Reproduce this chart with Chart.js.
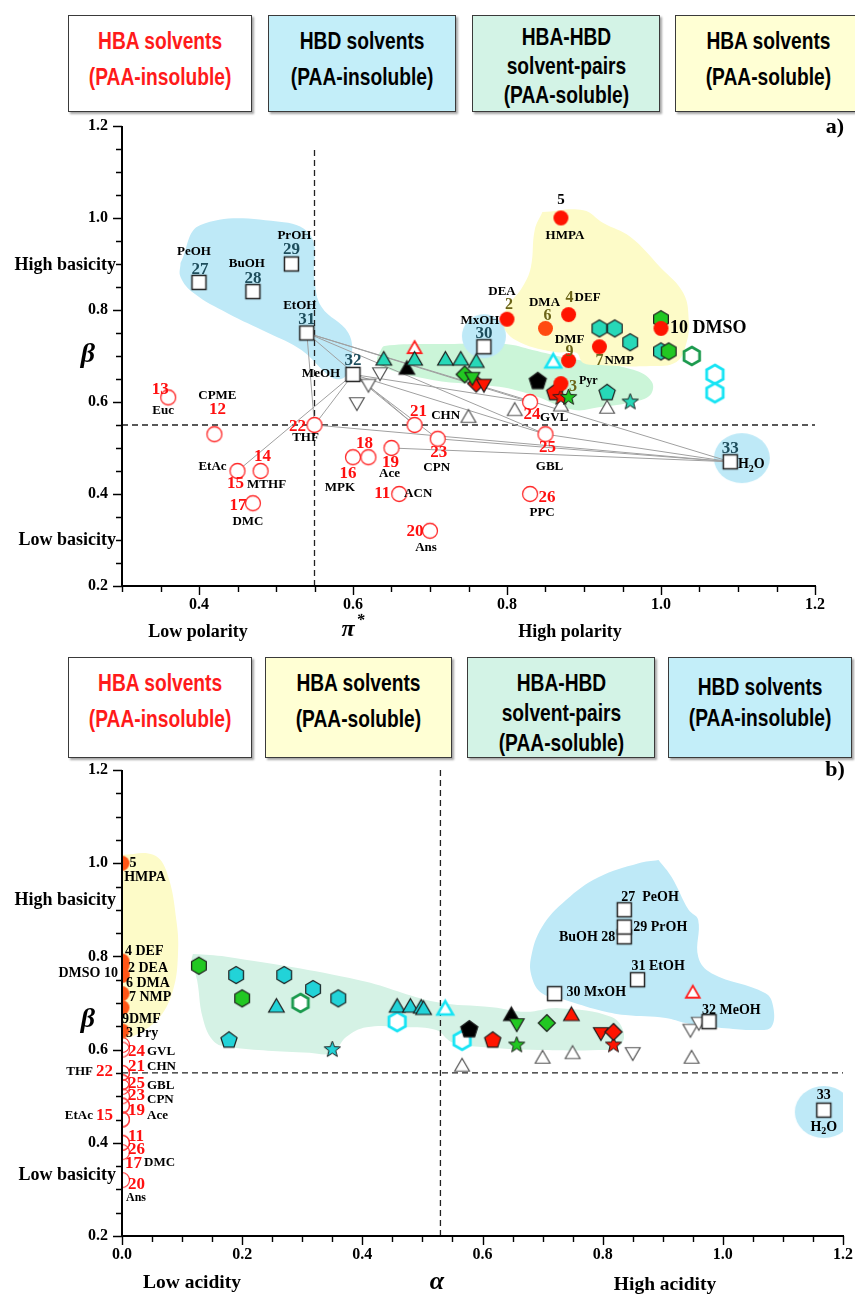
<!DOCTYPE html>
<html>
<head>
<meta charset="utf-8">
<script src="https://cdn.jsdelivr.net/npm/chart.js@4.4.0/dist/chart.umd.min.js"></script>
<style>
  body { margin: 0; background: #fff; width: 855px; height: 1296px; position: relative; overflow: hidden; }
  .box {
    position: absolute; box-sizing: border-box; border: 1.5px solid #3a3a3a;
    box-shadow: 2px 2px 2px rgba(0,0,0,0.35);
    display: flex; align-items: center; justify-content: center; text-align: center;
    font-family: "Liberation Sans", Arial, sans-serif; font-weight: bold; font-size: 24px;
  }
  .box div { transform: scaleX(0.8); white-space: nowrap; }
  canvas { position: absolute; left: 0; }
</style>
</head>
<body>
<div class="box" style="left:68px;top:15px;width:184px;height:97px;color:#ff1a1a;line-height:36px;padding-bottom:10px"><div>HBA solvents<br>(PAA-insoluble)</div></div>
<div class="box" style="left:268px;top:15px;width:188px;height:97px;background:#c3eef9;line-height:36px;padding-bottom:10px"><div>HBD solvents<br>(PAA-insoluble)</div></div>
<div class="box" style="left:472px;top:15px;width:188px;height:97px;background:#d3f3e6;line-height:29px;padding-top:4px"><div>HBA-HBD<br>solvent-pairs<br>(PAA-soluble)</div></div>
<div class="box" style="left:675px;top:15px;width:186px;height:97px;background:#ffffd4;line-height:36px;padding-bottom:10px"><div>HBA solvents<br>(PAA-soluble)</div></div>

<div class="box" style="left:68px;top:657px;width:184px;height:101px;color:#ff1a1a;line-height:36px;padding-bottom:14px"><div>HBA solvents<br>(PAA-insoluble)</div></div>
<div class="box" style="left:265px;top:657px;width:187px;height:101px;background:#ffffd4;line-height:36px;padding-bottom:14px"><div>HBA solvents<br>(PAA-soluble)</div></div>
<div class="box" style="left:467px;top:657px;width:188px;height:101px;background:#d3f3e6;line-height:30px;padding-top:10px"><div>HBA-HBD<br>solvent-pairs<br>(PAA-soluble)</div></div>
<div class="box" style="left:668px;top:657px;width:184px;height:101px;background:#c3eef9;line-height:31px;padding-bottom:12px"><div>HBD solvents<br>(PAA-insoluble)</div></div>

<canvas id="chartA" width="855" height="540" style="top:115px"></canvas>
<canvas id="chartB" width="855" height="536" style="top:760px"></canvas>

<script>
// ---- solvents: Kamlet-Taft values ----
const hbaSolNum = [5, 2, 6, 4, 9, 7, 10, 3];
const hbaSolName = ['HMPA', 'DEA', 'DMA', 'DEF', 'DMF', 'NMP', 'DMSO', 'Pyr'];
const hbaSolPi = [0.87, 0.80, 0.85, 0.88, 0.88, 0.92, 1.00, 0.87];
const hbaSolBeta = [1.00, 0.78, 0.76, 0.79, 0.69, 0.72, 0.76, 0.64];

const hbaInsNum = [13, 12, 22, 21, 15, 14, 17, 16, 18, 19, 23, 11, 20, 24, 25, 26];
const hbaInsName = ['Euc', 'CPME', 'THF', 'CHN', 'EtAc', 'MTHF', 'DMC', 'MPK', '', 'Ace', 'CPN', 'ACN', 'Ans', 'GVL', 'GBL', 'PPC'];
const hbaInsPi = [0.36, 0.42, 0.55, 0.68, 0.45, 0.48, 0.47, 0.60, 0.62, 0.65, 0.71, 0.66, 0.70, 0.83, 0.85, 0.83];
const hbaInsBeta = [0.61, 0.53, 0.55, 0.55, 0.45, 0.45, 0.38, 0.48, 0.48, 0.50, 0.52, 0.40, 0.32, 0.60, 0.53, 0.40];

const hbdNum = [27, 28, 29, 31, 32, 30, 33];
const hbdName = ['PeOH', 'BuOH', 'PrOH', 'EtOH', 'MeOH', 'MxOH', 'H2O'];
const hbdPi = [0.40, 0.47, 0.52, 0.54, 0.60, 0.77, 1.09];
const hbdBetaA = [0.86, 0.84, 0.90, 0.75, 0.66, 0.72, 0.47];
const hbdAlpha = [0.836, 0.836, 0.836, 0.858, 0.977, 0.72, 1.168];
const hbdBetaB = [0.90, 0.842, 0.863, 0.75, 0.66, 0.72, 0.47];

// HBD + HBA pairs drawn with grey tie lines in panel a)
const linkPairs = [[31, 22], [31, 21], [31, 24], [31, 25], [31, 33], [32, 15], [32, 22], [32, 21], [32, 23], [32, 24], [32, 25], [33, 22], [33, 23], [33, 19], [33, 25]];

// ---- solvent-pair points, panel a) (pi*, beta) ----
const pTealTriA = [[0.64, 0.69], [0.68, 0.69], [0.72, 0.69], [0.74, 0.69], [0.76, 0.685]];
const pOpenRedTriA = [[0.68, 0.715]];
const pBlackTriA = [[0.67, 0.67]];
const pGreenDiaA = [[0.745, 0.66]];
const pGreenDownA = [[0.755, 0.655]];
const pRedDiaA = [[0.76, 0.64]];
const pRedDownA = [[0.77, 0.64]];
const pOpenCyanTriA = [[0.86, 0.685]];
const pBlackPentA = [[0.84, 0.645]];
const pRedPentA = [[0.862, 0.62]];
const pRedStarA = [[0.87, 0.61]];
const pGreenStarA = [[0.88, 0.61]];
const pTealPentA = [[0.93, 0.62]];
const pTealStarA = [[0.96, 0.60]];
const pGreyTriA = [[0.81, 0.58], [0.87, 0.59], [0.93, 0.585], [0.75, 0.565]];
const pGreyDownA = [[0.635, 0.665], [0.62, 0.64], [0.605, 0.60]];
const pTealHexA = [[0.92, 0.76], [0.94, 0.76], [0.96, 0.73], [1.00, 0.71]];
const pGreenHexA = [[1.01, 0.71], [1.00, 0.78]];
const pOpenGreenHexA = [[1.04, 0.70]];
const pOpenCyanHexA = [[1.07, 0.66], [1.07, 0.62]];

// ---- solvent-pair points, panel b) (alpha, beta) ----
const pTealHexB = [[0.19, 0.76], [0.27, 0.76], [0.318, 0.73], [0.36, 0.71]];
const pGreenHexB = [[0.128, 0.78], [0.20, 0.71]];
const pOpenGreenHexB = [[0.297, 0.70]];
const pTealTriB = [[0.257, 0.69], [0.458, 0.69], [0.48, 0.69], [0.498, 0.688], [0.502, 0.685]];
const pTealPentB = [[0.178, 0.62]];
const pTealStarB = [[0.35, 0.60]];
const pOpenCyanTriB = [[0.538, 0.685]];
const pOpenCyanHexB = [[0.458, 0.66], [0.566, 0.62]];
const pBlackPentB = [[0.578, 0.643]];
const pRedPentB = [[0.617, 0.62]];
const pGreyTriB = [[0.566, 0.563], [0.70, 0.58], [0.75, 0.59], [0.948, 0.58]];
const pBlackTriB = [[0.648, 0.672]];
const pGreenDownB = [[0.657, 0.657]];
const pGreenDiaB = [[0.707, 0.657]];
const pRedTriB = [[0.748, 0.672]];
const pRedDownB = [[0.797, 0.638]];
const pRedDiaB = [[0.818, 0.638]];
const pGreenStarB = [[0.657, 0.61]];
const pRedStarB = [[0.818, 0.61]];
const pOpenRedTriB = [[0.95, 0.72]];
const pGreyDownB = [[0.946, 0.645], [0.96, 0.66], [0.85, 0.595]];

// ---- shaded groups (outlines in data units) ----
const blueBlobA = [[0.376, 0.902], [0.402, 0.985], [0.510, 0.991], [0.546, 0.959], [0.550, 0.865], [0.559, 0.807], [0.594, 0.750], [0.598, 0.691], [0.589, 0.654], [0.572, 0.654], [0.533, 0.713], [0.490, 0.750], [0.437, 0.793], [0.393, 0.837], [0.376, 0.872]];
const yellowBlobA = [[0.846, 1.013], [0.899, 1.017], [0.925, 0.989], [0.960, 0.959], [0.999, 0.893], [1.029, 0.837], [1.036, 0.778], [1.033, 0.728], [1.020, 0.687], [0.986, 0.678], [0.925, 0.680], [0.899, 0.685], [0.890, 0.707], [0.860, 0.709], [0.811, 0.735], [0.794, 0.772], [0.801, 0.807], [0.820, 0.850], [0.831, 0.893], [0.836, 0.974]];
const greenBlobA = [[0.635, 0.709], [0.641, 0.722], [0.725, 0.726], [0.798, 0.726], [0.833, 0.713], [0.877, 0.696], [0.964, 0.670], [0.988, 0.644], [0.986, 0.615], [0.964, 0.600], [0.921, 0.589], [0.886, 0.583], [0.833, 0.615], [0.790, 0.633], [0.703, 0.648], [0.637, 0.676], [0.631, 0.691]];
const highlightA = [[0.77, 0.743], [1.105, 0.478]];

const yellowBlobB = [[0, 1.018], [0.052, 1.018], [0.075, 0.979], [0.091, 0.872], [0.093, 0.799], [0.085, 0.728], [0.063, 0.670], [0.030, 0.636], [0.002, 0.621], [0, 0.62]];
const greenBlobB = [[0.118, 0.805], [0.174, 0.799], [0.395, 0.749], [0.523, 0.702], [0.616, 0.691], [0.672, 0.681], [0.727, 0.689], [0.815, 0.670], [0.835, 0.636], [0.827, 0.606], [0.793, 0.599], [0.694, 0.599], [0.594, 0.606], [0.549, 0.616], [0.523, 0.642], [0.473, 0.648], [0.407, 0.648], [0.373, 0.627], [0.350, 0.593], [0.312, 0.593], [0.174, 0.606], [0.151, 0.620], [0.134, 0.670], [0.125, 0.749], [0.116, 0.792]];
const blueBlobB = [[0.893, 1.007], [0.915, 0.970], [0.943, 0.900], [0.959, 0.878], [0.959, 0.799], [0.981, 0.764], [1.071, 0.721], [1.084, 0.691], [1.081, 0.649], [1.059, 0.642], [1.004, 0.646], [0.959, 0.653], [0.938, 0.657], [0.905, 0.668], [0.838, 0.674], [0.793, 0.685], [0.739, 0.706], [0.699, 0.721], [0.682, 0.756], [0.681, 0.799], [0.699, 0.863], [0.739, 0.921], [0.793, 0.970], [0.860, 1.000]];
const highlightB = [[1.168, 0.466]];

// split lines
const splitPiA = 0.55, splitBetaA = 0.55, splitAlphaB = 0.53, splitBetaB = 0.55;

// ---- look & feel ----
const SERIF = '"Liberation Serif", "Times New Roman", serif';
const BLUE = '#bee9f7', YELLOW = '#fdfbc8', GREEN_A = '#cbf5d8', GREEN_B = '#d5f2e5';
const RED = '#ff1400', ORANGE = '#ff4a10', ORANGE_B = '#ff5516';
const TEAL_A = '#27d8b8', TEAL_B = '#22d3d8', GREEN = '#22c822', EDGE = '#1b1b1b';
const CYAN = '#16e4f4', OPEN_GREEN = '#1c9a4e', GREY = '#555';

function polyVerts(shape, r) {
  const n = { tri: 3, tridown: 3, diamond: 4, pent: 5, hex: 6, star: 10 }[shape];
  const start = shape === 'tridown' ? Math.PI / 2 : -Math.PI / 2;
  const out = [];
  for (let i = 0; i < n; i++) {
    const a = start + i * 2 * Math.PI / n;
    const rr = shape === 'star' && i % 2 ? r * 0.42 : r;
    out.push([rr * Math.cos(a), rr * Math.sin(a)]);
  }
  return out;
}

// marker image for pointStyle
function mk(shape, r, fill, stroke, lw) {
  const rx = Array.isArray(r) ? r[0] : r, ry = Array.isArray(r) ? r[1] : r;
  const pad = lw + 2;
  const c = document.createElement('canvas');
  c.width = Math.ceil(2 * rx + 2 * pad);
  c.height = Math.ceil(2 * ry + 2 * pad);
  const g = c.getContext('2d');
  g.translate(c.width / 2, c.height / 2);
  g.beginPath();
  if (shape === 'circle') g.ellipse(0, 0, rx, ry, 0, 0, Math.PI * 2);
  else if (shape === 'square') g.rect(-rx, -rx, 2 * rx, 2 * rx);
  else {
    polyVerts(shape, rx).forEach(([x, y], i) => i ? g.lineTo(x, y) : g.moveTo(x, y));
    g.closePath();
  }
  if (fill) { g.fillStyle = fill; g.fill(); }
  if (stroke) { g.lineWidth = lw; g.strokeStyle = stroke; g.stroke(); }
  return c;
}

const M = {
  redDot: mk('circle', 7.5, RED, null, 0),
  orangeDot: mk('circle', 7.5, ORANGE, null, 0),
  orangeDotB: mk('circle', 7.5, ORANGE_B, null, 0),
  openCircleA: mk('circle', 7.5, '#fff', '#ff2a2a', 1.3),
  openCircleB: mk('circle', 7.5, null, '#ff3a3a', 1.2),
  square: mk('square', 7, '#fff', '#222', 1.5),
  tealTriA: mk('tri', 9, TEAL_A, EDGE, 1.2),
  tealTriB: mk('tri', 9, TEAL_B, EDGE, 1.2),
  blackTri: mk('tri', 9, '#000', EDGE, 1.2),
  redTri: mk('tri', 9, RED, EDGE, 1.2),
  openRedTri: mk('tri', 8, '#fff', '#ff2020', 1.8),
  openCyanTri: mk('tri', 9, '#fff', CYAN, 2.5),
  greyTri: mk('tri', 8.5, '#fff', GREY, 1.2),
  greyDown: mk('tridown', 8.5, '#fff', GREY, 1.2),
  greenDown: mk('tridown', 8.5, GREEN, EDGE, 1.2),
  redDown: mk('tridown', 8.5, RED, EDGE, 1.2),
  greenDia: mk('diamond', 8.5, GREEN, EDGE, 1.2),
  redDia: mk('diamond', 8.5, RED, EDGE, 1.2),
  blackPent: mk('pent', 9, '#000', EDGE, 1.2),
  redPent: mk('pent', 8.5, RED, EDGE, 1.2),
  tealPentA: mk('pent', 8.5, TEAL_A, EDGE, 1.2),
  tealPentB: mk('pent', 8.5, TEAL_B, EDGE, 1.2),
  redStar: mk('star', 8.5, RED, EDGE, 1),
  greenStar: mk('star', 8.5, GREEN, EDGE, 1),
  tealStarA: mk('star', 8.5, TEAL_A, EDGE, 1),
  tealStarB: mk('star', 8.5, TEAL_B, EDGE, 1),
  tealHexA: mk('hex', 8.5, TEAL_A, EDGE, 1.2),
  tealHexB: mk('hex', 8.5, TEAL_B, EDGE, 1.2),
  greenHex: mk('hex', 8.5, GREEN, EDGE, 1.2),
  openGreenHex: mk('hex', 9, '#fff', OPEN_GREEN, 2.8),
  openCyanHex: mk('hex', 9.5, '#fff', CYAN, 2.8),
  hlMx: mk('circle', 22, BLUE, null, 0),
  hlWaterA: mk('circle', [28, 25], BLUE, null, 0),
  hlWaterB: mk('circle', [29, 26], BLUE, null, 0)
};

// ---- solvent lookup ----
const SOLV = {};
hbaSolNum.forEach((n, i) => { SOLV[n] = { n, group: 'sol', name: hbaSolName[i], pi: hbaSolPi[i], betaA: hbaSolBeta[i], alpha: 0, betaB: hbaSolBeta[i] }; });
hbaInsNum.forEach((n, i) => { SOLV[n] = { n, group: 'ins', name: hbaInsName[i], pi: hbaInsPi[i], betaA: hbaInsBeta[i], alpha: 0, betaB: hbaInsBeta[i] }; });
hbdNum.forEach((n, i) => { SOLV[n] = { n, group: 'hbd', name: hbdName[i], pi: hbdPi[i], betaA: hbdBetaA[i], alpha: hbdAlpha[i], betaB: hbdBetaB[i] }; });
const posA = s => [s.pi, s.betaA];
const posB = s => [s.alpha, s.betaB];

const xy = (xs, ys) => xs.map((x, i) => ({ x, y: ys[i] }));
const pts = arr => arr.map(([x, y]) => ({ x, y }));

function marks(data, style, order, extra) {
  return Object.assign({ type: 'scatter', data, pointStyle: style, pointRadius: 8, pointHoverRadius: 8, order }, extra || {});
}
function blob(outline, color) {
  return { type: 'line', data: pts(outline.concat([outline[0]])), fill: 'shape', backgroundColor: color,
    borderWidth: 0, borderColor: 'rgba(0,0,0,0)', pointRadius: 0, tension: 0.4, order: 20 };
}
function segment(p, q, color, width, dash, order) {
  return { type: 'line', data: pts([p, q]), borderColor: color, borderWidth: width, borderDash: dash,
    pointRadius: 0, fill: false, tension: 0, order };
}

function drawText(ctx, text, x, y, align, font, color) {
  ctx.font = font; ctx.fillStyle = color; ctx.textBaseline = 'middle';
  const size = parseFloat(font.match(/([\d.]+)px/)[1]);
  if (text === 'H2O' || text === 'π*') {
    const a = text === 'H2O' ? 'H' : 'π', b = text === 'H2O' ? '2' : '*', c = text === 'H2O' ? 'O' : '';
    const small = font.replace(/[\d.]+px/, Math.round(size * 0.68) + 'px');
    const wa = ctx.measureText(a).width, wc = ctx.measureText(c).width;
    ctx.font = small; const wb = ctx.measureText(b).width; ctx.font = font;
    const total = wa + wb + wc;
    const sx = align === 'center' ? x - total / 2 : align === 'right' ? x - total : x;
    ctx.textAlign = 'left';
    ctx.fillText(a, sx, y);
    ctx.font = small; ctx.fillText(b, sx + wa + (c ? 0 : 2), y + (c ? size * 0.3 : -size * 0.4));
    ctx.font = font; if (c) ctx.fillText(c, sx + wa + wb, y);
    return;
  }
  ctx.textAlign = align; ctx.fillText(text, x, y);
}

function axesPlugin(texts) {
  return {
    id: 'axes',
    afterDatasetsDraw(chart) {
      const { ctx, chartArea: a, scales: { x, y } } = chart;
      ctx.save();
      ctx.strokeStyle = '#000';
      ctx.lineWidth = 2;
      ctx.beginPath();
      ctx.moveTo(a.left, a.top); ctx.lineTo(a.left, a.bottom); ctx.lineTo(a.right + 1, a.bottom);
      ctx.stroke();
      ctx.lineWidth = 1.4;
      ctx.beginPath();
      x.ticks.forEach(t => {
        const p = Math.round(x.getPixelForValue(t.value)) + 0.5, L = t.label ? 9 : 6;
        ctx.moveTo(p, a.bottom); ctx.lineTo(p, a.bottom + L);
      });
      y.ticks.forEach(t => {
        const p = Math.round(y.getPixelForValue(t.value)) + 0.5, L = t.label ? 9 : 6;
        ctx.moveTo(a.left, p); ctx.lineTo(a.left - L, p);
      });
      ctx.stroke();
      texts.forEach(([txt, tx, ty, align, font]) => drawText(ctx, txt, tx, ty, align, font, '#000'));
      ctx.restore();
    }
  };
}

function labelPlugin(specs, pos, colorOf) {
  return {
    id: 'solventLabels',
    afterDatasetsDraw(chart) {
      const { ctx, scales: { x, y } } = chart;
      ctx.save();
      specs.forEach(([n, part, dx, dy, align, size, override]) => {
        const s = SOLV[n], p = pos(s);
        const px = x.getPixelForValue(p[0]) + dx, py = y.getPixelForValue(p[1]) + dy;
        const text = override || (part === 'n' ? String(n) : part === 'm' ? s.name : part === 'nm' ? n + ' ' + s.name : s.name + ' ' + n);
        const fsize = size || (part === 'n' ? 17 : 13);
        drawText(ctx, text, px, py, align || 'center', `bold ${fsize}px ${SERIF}`, colorOf(s, part));
      });
      ctx.restore();
    }
  };
}

const isMajor = v => Math.abs(v / 0.2 - Math.round(v / 0.2)) < 1e-6;
function axis(min, max, size, isX) {
  return {
    type: 'linear', min, max,
    grid: { display: false, drawTicks: false }, border: { display: false },
    afterFit: s => {
      if (isX) { s.height = size; s.paddingLeft = 0; s.paddingRight = 0; }
      else { s.width = size; s.paddingTop = 0; s.paddingBottom = 0; }
    },
    ticks: {
      stepSize: 0.05, maxTicksLimit: 30, autoSkip: false, maxRotation: 0, padding: isX ? 9 : 14, color: '#000',
      font: { family: SERIF, weight: 'bold', size: 16 },
      callback: v => isMajor(v) ? v.toFixed(1) : ''
    }
  };
}

const AXF = `bold 18px ${SERIF}`, GREEK = `bold italic 28px ${SERIF}`;

// ---------------- panel a) ----------------
const labelsA = [
  [5, 'n', 0, -18, 'center', 15], [5, 'm', 4, 18],
  [2, 'm', -5, -28], [2, 'n', 2, -14, 'center', 16],
  [6, 'm', -1, -26], [6, 'n', 2, -13, 'center', 16],
  [4, 'n', 1, -17, 'center', 16], [4, 'm', 6, -17, 'left'],
  [9, 'm', 1, -21], [9, 'n', 1, -9, 'center', 16],
  [7, 'n', 0, 14, 'center', 16], [7, 'm', 5, 14, 'left'],
  [10, 'nm', 9, 0, 'left', 18],
  [3, 'n', 12, 3, 'center', 16], [3, 'm', 18, -3, 'left', 12],
  [13, 'n', -8, -8], [13, 'm', -5, 13],
  [12, 'm', 3, -39], [12, 'n', 3, -25],
  [22, 'n', -17, 2], [22, 'm', -9, 13],
  [21, 'n', 4, -13], [21, 'm', 31, -9],
  [15, 'm', -25, -4], [15, 'n', -2, 13],
  [14, 'n', 2, -14], [14, 'm', 6, 14],
  [17, 'n', -15, 2], [17, 'm', -5, 18],
  [16, 'n', -5, 16], [16, 'm', -13, 30],
  [18, 'n', -4, -14],
  [19, 'n', -1, 15], [19, 'm', -2, 26],
  [23, 'n', 1, 14], [23, 'm', -1, 29],
  [11, 'n', -17, 0], [11, 'm', 19, 0],
  [20, 'n', -15, 1], [20, 'm', -4, 17],
  [24, 'n', 2, 13], [24, 'm', 24, 16],
  [25, 'n', 2, 13], [25, 'm', 4, 32],
  [26, 'n', 17, 4], [26, 'm', 12, 19],
  [27, 'm', -5, -31], [27, 'n', 1, -13],
  [28, 'm', -6, -28], [28, 'n', 0, -13],
  [29, 'm', 3, -28], [29, 'n', 0, -14],
  [31, 'm', -7, -27], [31, 'n', 0, -13],
  [32, 'n', 0, -14], [32, 'm', -32, -1],
  [30, 'm', -4, -26], [30, 'n', 0, -13],
  [33, 'n', 0, -13], [33, 'm', 21, 3, 'center', 14]
];
const colorA = (s, part) => {
  if (part !== 'n') return '#000';
  if (s.group === 'ins') return '#ff1010';
  if (s.group === 'hbd') return '#1e4d5c';
  return (s.n === 5 || s.n === 10) ? '#000' : '#6b6418';
};
const textsA = [
  ['High basicity', 116, 150, 'right', AXF],
  ['β', 88, 240, 'center', GREEK],
  ['Low basicity', 116, 425, 'right', AXF],
  ['Low polarity', 198, 517, 'center', AXF],
  ['π*', 352, 515, 'center', `bold italic 24px ${SERIF}`],
  ['High polarity', 570, 517, 'center', AXF],
  ['a)', 835, 12, 'center', `bold 22px ${SERIF}`]
];

const datasetsA = [
  marks(xy(hbaSolPi, hbaSolBeta), hbaSolName.map(n => n === 'DMA' ? M.orangeDot : M.redDot), 1),
  marks(xy(hbdPi, hbdBetaA), M.square, 1),
  marks(xy(hbaInsPi, hbaInsBeta), M.openCircleA, 2),
  marks(pts(pTealTriA), M.tealTriA, 3),
  marks(pts(pOpenRedTriA), M.openRedTri, 3),
  marks(pts(pBlackTriA), M.blackTri, 3),
  marks(pts(pGreenDiaA), M.greenDia, 4),
  marks(pts(pGreenDownA), M.greenDown, 3),
  marks(pts(pRedDiaA), M.redDia, 4),
  marks(pts(pRedDownA), M.redDown, 3),
  marks(pts(pOpenCyanTriA), M.openCyanTri, 3),
  marks(pts(pBlackPentA), M.blackPent, 3),
  marks(pts(pRedPentA), M.redPent, 4),
  marks(pts(pRedStarA), M.redStar, 3),
  marks(pts(pGreenStarA), M.greenStar, 2),
  marks(pts(pTealPentA), M.tealPentA, 3),
  marks(pts(pTealStarA), M.tealStarA, 3),
  marks(pts(pGreyTriA), M.greyTri, 3),
  marks(pts(pGreyDownA), M.greyDown, 3),
  marks(pts(pTealHexA), M.tealHexA, 6),
  marks(pts(pGreenHexA), M.greenHex, 5),
  marks(pts(pOpenGreenHexA), M.openGreenHex, 5),
  marks(pts(pOpenCyanHexA), M.openCyanHex, 5),
  ...linkPairs.map(([a, b]) => segment(posA(SOLV[a]), posA(SOLV[b]), '#a0a0a0', 1, [], 8)),
  segment([splitPiA, 0.2], [splitPiA, 1.15], '#222', 1.3, [6, 4], 9),
  segment([0.3, splitBetaA], [1.2, splitBetaA], '#222', 1.3, [6, 4], 9),
  marks(pts(highlightA), [M.hlMx, M.hlWaterA], 15),
  blob(blueBlobA, BLUE),
  blob(yellowBlobA, YELLOW),
  blob(greenBlobA, GREEN_A)
];

new Chart(document.getElementById('chartA'), {
  type: 'scatter',
  data: { datasets: datasetsA },
  options: {
    responsive: false, animation: false, events: [],
    layout: { padding: { top: 11, right: 40, left: 0, bottom: 0 } },
    plugins: { legend: { display: false }, tooltip: { enabled: false } },
    scales: { x: axis(0.3, 1.2, 69, true), y: axis(0.2, 1.2, 122, false) }
  },
  plugins: [axesPlugin(textsA), labelPlugin(labelsA, posA, colorA)]
});

// ---------------- panel b) ----------------
const labelsB = [
  [5, 'n', 11, 0, 'center', 14], [5, 'm', 23, 14, 'center', 14],
  [4, 'nm', 3, -10, 'left', 14],
  [10, 'mn', -4, -2, 'right', 14],
  [2, 'nm', 6, 3, 'left', 14],
  [6, 'nm', 4, 8, 'left', 14],
  [7, 'nm', 7, 4, 'left', 14],
  [9, 'nm', 0, 12, 'left', 14, '9DMF'],
  [3, 'nm', 4, 2, 'left', 14, '3 Pry'],
  [24, 'n', 6, 2, 'left'], [24, 'm', 25, 2, 'left'],
  [21, 'n', 6, -6, 'left'], [21, 'm', 25, -6, 'left'],
  [22, 'n', -9, -1, 'right'], [22, 'm', -29, -1, 'right'],
  [25, 'n', 6, 1, 'left'], [25, 'm', 25, 3, 'left'],
  [23, 'n', 6, 9, 'left'], [23, 'm', 25, 13, 'left'],
  [19, 'n', 6, 14, 'left'], [19, 'm', 25, 19, 'left'],
  [15, 'n', -9, -4, 'right'], [15, 'm', -29, -4, 'right'],
  [11, 'n', 6, -6, 'left'],
  [26, 'n', 6, 7, 'left'],
  [17, 'n', 3, 11, 'left'], [17, 'm', 22, 11, 'left'],
  [20, 'n', 6, 5, 'left'], [20, 'm', 4, 18, 'left', 12],
  [27, 'nm', -3, -12, 'left', 14, '27  PeOH'],
  [29, 'nm', 9, 0, 'left', 14],
  [28, 'mn', -9, 1, 'right', 14],
  [31, 'nm', -6, -13, 'left', 14],
  [30, 'nm', 12, -1, 'left', 14],
  [32, 'nm', -7, -11, 'left', 14],
  [33, 'n', 0, -15, 'center', 14], [33, 'm', 0, 17, 'center', 14]
];
const colorB = (s, part) => (part === 'n' && s.group === 'ins') ? '#ff1010' : '#000';
const textsB = [
  ['High basicity', 116, 140, 'right', AXF],
  ['β', 88, 260, 'center', GREEK],
  ['Low basicity', 116, 415, 'right', AXF],
  ['Low acidity', 192, 523, 'center', `bold 19.5px ${SERIF}`],
  ['α', 437, 522, 'center', `bold italic 26px ${SERIF}`],
  ['High acidity', 665, 525, 'center', `bold 19.5px ${SERIF}`],
  ['b)', 835, 10, 'center', `bold 22px ${SERIF}`]
];
const axisClip = { left: 0, top: false, right: false, bottom: false };
const datasetsB = [
  marks(xy(hbaSolNum.map(n => SOLV[n].alpha), hbaSolBeta), M.orangeDotB, 1, { clip: axisClip }),
  marks(xy(hbdAlpha, hbdBetaB), M.square, 1),
  marks(xy(hbaInsNum.map(n => SOLV[n].alpha), hbaInsBeta), M.openCircleB, 2, { clip: axisClip }),
  marks(pts(pTealHexB), M.tealHexB, 4),
  marks(pts(pGreenHexB), M.greenHex, 4),
  marks(pts(pOpenGreenHexB), M.openGreenHex, 4),
  marks(pts(pTealTriB), M.tealTriB, 3),
  marks(pts(pTealPentB), M.tealPentB, 3),
  marks(pts(pTealStarB), M.tealStarB, 3),
  marks(pts(pOpenCyanTriB), M.openCyanTri, 3),
  marks(pts(pOpenCyanHexB), M.openCyanHex, 4),
  marks(pts(pBlackPentB), M.blackPent, 3),
  marks(pts(pRedPentB), M.redPent, 3),
  marks(pts(pGreyTriB), M.greyTri, 3),
  marks(pts(pBlackTriB), M.blackTri, 4),
  marks(pts(pGreenDownB), M.greenDown, 3),
  marks(pts(pGreenDiaB), M.greenDia, 3),
  marks(pts(pRedTriB), M.redTri, 3),
  marks(pts(pRedDownB), M.redDown, 4),
  marks(pts(pRedDiaB), M.redDia, 3),
  marks(pts(pGreenStarB), M.greenStar, 3),
  marks(pts(pRedStarB), M.redStar, 3),
  marks(pts(pOpenRedTriB), M.openRedTri, 3),
  marks(pts(pGreyDownB), M.greyDown, 3),
  segment([splitAlphaB, 0.2], [splitAlphaB, 1.2], '#222', 1.3, [6, 4], 9),
  segment([0, splitBetaB], [1.2, splitBetaB], '#222', 1.3, [6, 4], 9),
  marks(pts(highlightB), M.hlWaterB, 15),
  blob(yellowBlobB, YELLOW),
  blob(greenBlobB, GREEN_B),
  blob(blueBlobB, BLUE)
];

new Chart(document.getElementById('chartB'), {
  type: 'scatter',
  data: { datasets: datasetsB },
  options: {
    responsive: false, animation: false, events: [],
    layout: { padding: { top: 10, right: 12, left: 0, bottom: 0 } },
    plugins: { legend: { display: false }, tooltip: { enabled: false } },
    scales: { x: axis(0, 1.2, 60, true), y: axis(0.2, 1.2, 122, false) }
  },
  plugins: [axesPlugin(textsB), labelPlugin(labelsB, posB, colorB)]
});
</script>
</body>
</html>
